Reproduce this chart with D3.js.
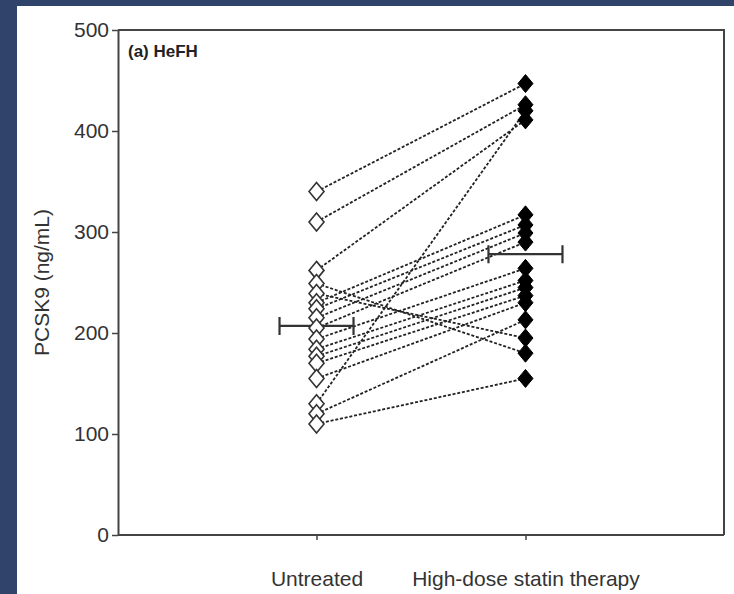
<!DOCTYPE html>
<html lang="en">
<head>
    <meta charset="UTF-8">
    <title>PCSK9 HeFH</title>
    <script src="https://d3js.org/d3.v7.min.js"></script>
    <style>
        body { margin: 0; background: #30446b; }
        text { font-family: "Liberation Sans", Arial, sans-serif; }
    </style>
</head>
<body>
    <div id="my_dataviz"></div>

    <script>
        // data
        var groups = ["Untreated", "High-dose statin therapy"];
        var untreated = [340, 310, 262, 130, 249, 239, 230, 224, 215, 205, 194, 184, 177, 170, 155, 120, 110];
        var statin    = [447, 426, 411, 420, 180, 195, 317, 307, 299, 290, 264, 252, 245, 237, 230, 213, 155];
        var means = [207, 278];
        var yTicks = [0, 100, 200, 300, 400, 500];

        var W = 734, H = 594;
        var margin = {top: 30, right: 10, bottom: 59, left: 118},
            width = W - margin.left - margin.right,
            height = H - margin.top - margin.bottom;

        var root = d3.select("#my_dataviz")
            .append("svg")
            .attr("width", W)
            .attr("height", H)
            .style("display", "block");

        // navy frame + white panel
        root.append("rect").attr("width", W).attr("height", H).attr("fill", "#30446b");
        root.append("rect").attr("x", 17).attr("y", 6).attr("width", W - 17).attr("height", H - 6).attr("fill", "#fff");

        var svg = root.append("g")
            .attr("transform", "translate(" + margin.left + "," + margin.top + ")");

        var x = d3.scalePoint()
            .domain(groups)
            .range([0, width])
            .padding(0.95);

        var y = d3.scaleLinear()
            .domain([0, 500])
            .range([height, 0]);

        // box top + right
        svg.append("path")
            .attr("d", "M0,0H" + width + "V" + height)
            .attr("fill", "none")
            .attr("stroke", "#444")
            .attr("stroke-width", 2);

        // y axis
        var yAxis = svg.append("g")
            .call(d3.axisLeft(y).tickValues(yTicks).tickSize(6).tickSizeOuter(0).tickPadding(3));
        yAxis.select(".domain").attr("stroke", "#444").attr("stroke-width", 2);
        yAxis.selectAll(".tick line").attr("stroke", "#444").attr("stroke-width", 1.5);
        yAxis.selectAll("text")
            .attr("fill", "#333")
            .style("font-size", "21px")
            .style("font-family", "Liberation Sans, Arial, sans-serif");

        // x axis
        var xAxis = svg.append("g")
            .attr("transform", "translate(0," + height + ")")
            .call(d3.axisBottom(x).tickSize(5).tickSizeOuter(0).tickPadding(31));
        xAxis.select(".domain").attr("stroke", "#444").attr("stroke-width", 2)
            .attr("d", "M0,0H" + width);
        xAxis.selectAll(".tick line").attr("stroke", "#444").attr("stroke-width", 1.5);
        xAxis.selectAll("text")
            .attr("fill", "#333")
            .style("font-size", "21px")
            .style("font-family", "Liberation Sans, Arial, sans-serif");

        // y axis label
        svg.append("text")
            .attr("transform", "rotate(-90)")
            .attr("x", -y(250))
            .attr("y", -margin.left + 49)
            .attr("text-anchor", "middle")
            .attr("fill", "#333")
            .style("font-size", "21px")
            .text("PCSK9 (ng/mL)");

        // panel title
        svg.append("text")
            .attr("x", 10)
            .attr("y", 27)
            .attr("fill", "#222")
            .style("font-size", "17px")
            .style("font-weight", "bold")
            .text("(a) HeFH");

        // paired lines
        var x0 = x(groups[0]), x1 = x(groups[1]);
        svg.selectAll("line.pair")
            .data(d3.range(untreated.length))
            .enter()
            .append("line")
            .attr("class", "pair")
            .attr("x1", x0)
            .attr("y1", function(i) { return y(untreated[i]); })
            .attr("x2", x1)
            .attr("y2", function(i) { return y(statin[i]); })
            .attr("stroke", "#222")
            .attr("stroke-width", 1.8)
            .attr("stroke-dasharray", "3,1.8");

        // mean bars
        var hw = 37, cap = 9;
        means.forEach(function(m, i) {
            var cx = x(groups[i]), cy = y(m);
            var g = svg.append("g").attr("stroke", "#333").attr("stroke-width", 2.2).attr("fill", "none");
            g.append("path")
                .attr("d", "M" + (cx - hw) + "," + (cy - cap) + "V" + (cy + cap) +
                    "M" + (cx - hw) + "," + cy + "H" + (cx + hw) +
                    "M" + (cx + hw) + "," + (cy - cap) + "V" + (cy + cap));
        });

        var diamond = function(cx, cy) {
            var w = 7.5, h = 9;
            return "M" + cx + "," + (cy - h) + "L" + (cx + w) + "," + cy +
                "L" + cx + "," + (cy + h) + "L" + (cx - w) + "," + cy + "Z";
        };

        // untreated: open diamonds
        svg.selectAll("path.open")
            .data(untreated)
            .enter()
            .append("path")
            .attr("class", "open")
            .attr("d", function(d) { return diamond(x0, y(d)); })
            .attr("fill", "#fff")
            .attr("stroke", "#333")
            .attr("stroke-width", 1.6);

        // statin: filled diamonds
        svg.selectAll("path.filled")
            .data(statin)
            .enter()
            .append("path")
            .attr("class", "filled")
            .attr("d", function(d) { return diamond(x1, y(d)); })
            .attr("fill", "#000")
            .attr("stroke", "#000")
            .attr("stroke-width", 1);
    </script>
</body>
</html>
